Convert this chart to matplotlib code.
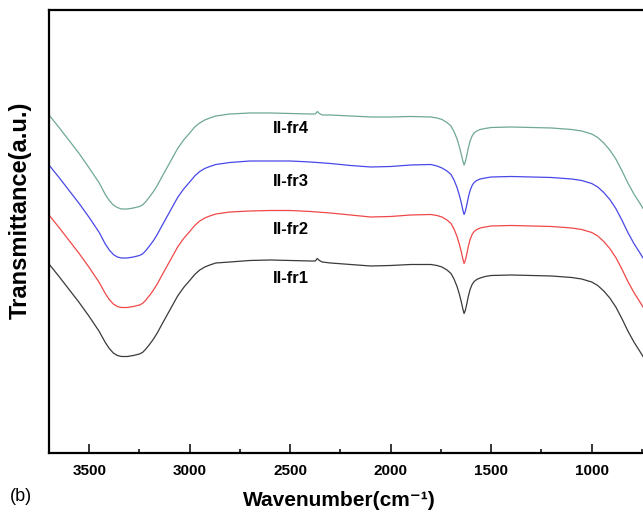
import matplotlib.pyplot as plt
from matplotlib.ticker import MultipleLocator

plt.rcParams['font.family'] = ['Liberation Sans', 'DejaVu Sans']

# FTIR spectra of the four fractions, transmittance in a.u. (stacked)
wn_band = [3700, 3650, 3600, 3550, 3500, 3450, 3420, 3400, 3380, 3360, 3340, 3310, 3280, 3250,
           3235, 3220, 3200, 3180, 3160, 3140, 3100, 3060, 3030, 3000, 2975, 2950, 2925, 2900, 2870]
wn_mid = [2800, 2700, 2600, 2500, 2400, 2300, 2200, 2100, 2000, 1900]
wn_mid_co2 = [2800, 2700, 2600, 2500, 2400, 2375, 2365, 2355, 2340, 2300, 2200, 2100, 2000, 1900]
wn_dip = [1800, 1770, 1745, 1720, 1700, 1685, 1670, 1658, 1648, 1641, 1635, 1629, 1622, 1614,
          1605, 1595, 1585, 1572, 1555, 1530, 1500]
wn_tail = [1400, 1300, 1200, 1100, 1050, 1000, 970, 940, 910, 880, 850, 820, 790, 760, 740]

wn_fr1 = wn_band + wn_mid_co2 + wn_dip + wn_tail
t_fr1 = ([189, 176.5, 163.5, 150.5, 136.5, 121.5, 110.5, 104.5, 100, 97.5, 96.5, 96.5, 97.5, 99,
          100.5, 103.5, 108.5, 114, 120.5, 128, 142.5, 157, 165.5, 172.5, 178.5, 183, 186, 188, 190]
         + [191, 192.5, 193, 192.5, 192, 192, 194.5, 192.5, 191, 190, 188.5, 187, 187.5, 188.5]
         + [188.5, 187.5, 186, 183, 179.5, 174, 166.5, 158.5, 150.5, 144, 139.5, 142.5, 148.5,
            156.5, 163.5, 168.5, 171.5, 173.5, 175, 176.5, 177.5]
         + [178, 177.5, 177, 175.5, 174, 171, 167.5, 162, 155, 146, 134.5, 122, 111, 101.5, 95])

wn_fr2 = wn_band + wn_mid + wn_dip + wn_tail
t_fr2 = ([238, 225.5, 212.5, 199.5, 185.5, 170.5, 159.5, 153.5, 149, 146.5, 145.5, 145.5, 146.5,
          148, 149.5, 152.5, 157.5, 163, 169.5, 177, 191.5, 206, 214.5, 221.5, 227.5, 232, 235,
          237, 239]
         + [241, 242, 242.5, 242.5, 241.5, 240, 238, 236, 236.5, 238]
         + [238.5, 237.5, 236, 233, 229.5, 224, 216.5, 208.5, 200.5, 194, 189.5, 192.5, 198.5,
            206.5, 213.5, 218.5, 221.5, 223.5, 225, 226, 227]
         + [227.5, 227, 226.5, 225, 223.5, 220.5, 217, 211.5, 204.5, 195.5, 184, 171.5, 160.5,
            151, 144.5])

wn_fr3 = wn_band + wn_mid + wn_dip + wn_tail
t_fr3 = ([288, 275.5, 262.5, 249.5, 235.5, 220.5, 209, 203, 198.5, 196, 195, 195, 196, 197.5,
          199, 202, 207, 212.5, 219, 226.5, 241, 255.5, 264, 271, 277, 281.5, 284.5, 286.5, 288.5]
         + [290.5, 292, 292, 292, 291, 289.5, 287.5, 286, 286.5, 288]
         + [288.5, 287, 285, 282, 278.5, 273, 265.5, 257.5, 249.5, 243, 238.5, 241.5, 247.5,
            255.5, 262.5, 267.5, 270.5, 272.5, 274, 275, 276]
         + [276.5, 276, 275.5, 274, 272.5, 269.5, 266, 260.5, 253.5, 244.5, 233, 220.5, 209.5,
            200, 193.5])

wn_fr4 = wn_band + wn_mid_co2 + wn_dip + wn_tail
t_fr4 = ([338, 325.5, 312.5, 299.5, 285, 270, 258.5, 252.5, 248, 245.5, 244, 244, 245, 246.5,
          248, 251, 256, 261.5, 268, 275.5, 290, 304.5, 313, 320, 326, 330, 333, 335, 337]
         + [339, 340, 340, 339.5, 339, 339, 341.5, 339.5, 338, 338, 337, 336, 336, 336.5]
         + [336, 335, 333.5, 330.5, 327, 321.5, 314, 306, 298, 292, 288, 291, 297, 305, 312, 317,
            320, 322, 323.5, 324.5, 325.5]
         + [326, 325.5, 325, 323.5, 322, 319, 315.5, 310, 303, 294, 282.5, 270, 259, 249.5, 243])

names = ['II-fr1', 'II-fr2', 'II-fr3', 'II-fr4']
label_y = [174, 223, 271, 324]
colors = ['#3a3a3a', '#f04848', '#4848e8', '#6fa896']

fig = plt.figure(figsize=(6.43, 5.15), dpi=100)
ax = fig.add_axes([0.0762, 0.1204, 0.9378, 0.8602])

for name, wn, t, c, ly in zip(names, [wn_fr1, wn_fr2, wn_fr3, wn_fr4],
                               [t_fr1, t_fr2, t_fr3, t_fr4], colors, label_y):
    ax.plot(wn, t, color=c, lw=0.9)
    ax.text(2585, ly, name, fontsize=12, fontweight='bold', ha='left', va='center')

ax.set_xlim(3700, 700)
ax.set_ylim(0, 443)
ax.xaxis.set_major_locator(MultipleLocator(500))
ax.xaxis.set_minor_locator(MultipleLocator(250))
ax.set_yticks([])
ax.tick_params(axis='x', which='major', direction='in', length=6.5, width=1.1,
               labelsize=11, pad=8)
ax.tick_params(axis='x', which='minor', direction='in', length=3, width=1.1)
for lbl in ax.get_xticklabels():
    lbl.set_fontweight('bold')
for sp in ax.spines.values():
    sp.set_linewidth(1.6)

fig.text(0.527, 0.029, 'Wavenumber(cm\u207b\u00b9)', fontsize=15, fontweight='bold',
         ha='center', va='center')
fig.text(0.031, 0.592, 'Transmittance(a.u.)', fontsize=17, fontweight='bold',
         rotation=90, ha='center', va='center')
fig.text(0.016, 0.035, '(b)', fontsize=13, ha='left', va='center')

fig.savefig('out.png', dpi=100)
